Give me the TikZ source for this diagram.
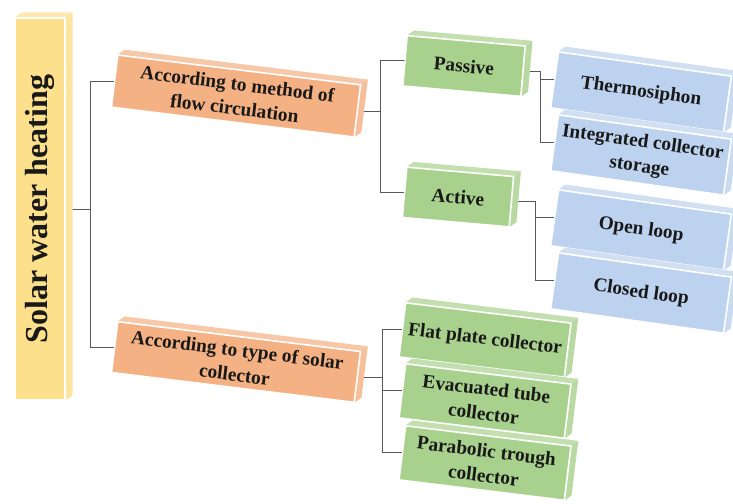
\documentclass[tikz,border=0pt]{standalone}
\usepackage{fontspec}
\setmainfont{Liberation Serif}
\usetikzlibrary{calc}
\usetikzlibrary{positioning}
\definecolor{sunbar}{RGB}{252,224,140}
\definecolor{flowbox}{RGB}{244,177,131}
\definecolor{kindbox}{RGB}{169,209,142}
\definecolor{leafbox}{RGB}{189,210,238}
\pgfdeclarelayer{wires}
\pgfsetlayers{wires,main}
\tikzset{
  slab/.style={draw=white,line width=0.8pt,fill=#1,inner sep=0pt,align=center,
    text=black!90,font=\fontsize{14.5}{18.5}\selectfont\bfseries},
  wire/.style={draw=black!65,line width=0.6pt}
}
\newcommand{\extrude}[2]{%
  \fill[#2!70!white] (#1.north west) -- ++(7,-5) -- ($(#1.north east)+(7,-5)$) -- (#1.north east) -- cycle;
  \fill[#2!82!white] (#1.north east) -- ++(7,-5) -- ($(#1.south east)+(7,-5)$) -- (#1.south east) -- cycle;
  \draw[white,line width=0.8pt] (#1.north west) -- (#1.north east) -- (#1.south east);
}

\begin{document}
\begin{tikzpicture}[line cap=round,line join=round,x=0.75pt,y=-0.75pt]
\clip(0,0) rectangle (733,504);
\node[slab=sunbar,minimum width=37.5pt,minimum height=286.5pt] (sw) at (40,209) {};
\extrude{sw}{sunbar}
\node[rotate=90,text=black!90,font=\fontsize{24}{28}\selectfont\bfseries] (swtext) at (sw) {Solar water heating};
\node[slab=flowbox,rotate=-7,minimum width=183pt,minimum height=39pt] (flow) at (236,96) {According to method of\\flow circulation};
\extrude{flow}{flowbox}
\node[slab=flowbox,rotate=-7,minimum width=183pt,minimum height=38pt] (type) at (236,362) {According to type of solar\\collector};
\extrude{type}{flowbox}
\node[slab=kindbox,rotate=-5,minimum width=88.5pt,minimum height=37.5pt] (passive) at (464,66) {Passive};
\extrude{passive}{kindbox}
\node[slab=kindbox,rotate=-5,minimum width=80pt,minimum height=37.5pt] (active) at (458,197) {Active};
\extrude{active}{kindbox}
\node[slab=leafbox,rotate=-8,minimum width=130.5pt,minimum height=42pt] (thermo) at (641,92) {Thermosiphon};
\extrude{thermo}{leafbox}
\node[slab=leafbox,rotate=-8,minimum width=130.5pt,minimum height=42pt] (ics) at (641,155) {Integrated collector\\storage};
\extrude{ics}{leafbox}
\node[slab=leafbox,rotate=-8,minimum width=130.5pt,minimum height=42pt] (open) at (641,230) {Open loop};
\extrude{open}{leafbox}
\node[slab=leafbox,rotate=-8,minimum width=130.5pt,minimum height=42pt] (closed) at (641,293) {Closed loop};
\extrude{closed}{leafbox}
\node[slab=kindbox,rotate=-7,minimum width=124.5pt,minimum height=40.5pt] (flat) at (485,340) {Flat plate collector};
\extrude{flat}{kindbox}
\node[slab=kindbox,rotate=-7,minimum width=124.5pt,minimum height=40.5pt] (evac) at (485,401) {Evacuated tube\\collector};
\extrude{evac}{kindbox}
\node[slab=kindbox,rotate=-7,minimum width=124.5pt,minimum height=40.5pt] (parab) at (485,463) {Parabolic trough\\collector};
\extrude{parab}{kindbox}
\coordinate (j1) at (90,0);
\coordinate (j2) at (380,0);
\coordinate (j3) at (540,0);
\coordinate (j4) at (535,0);
\coordinate (j5) at (382,0);
\begin{pgfonlayer}{wires}
\draw[wire] (sw.east) -- (sw.east -| j1) |- (flow.west);
\draw[wire] (sw.east -| j1) |- (type.west);
\draw[wire] (flow.east) -- (flow.east -| j2) |- (passive.west);
\draw[wire] (flow.east -| j2) |- (active.west);
\draw[wire] (passive.east) -- (passive.east -| j3) |- (thermo.west);
\draw[wire] (passive.east -| j3) |- (ics.west);
\draw[wire] (active.east) -- (active.east -| j4) |- (open.west);
\draw[wire] (active.east -| j4) |- (closed.west);
\draw[wire] (type.east) -- (type.east -| j5) |- (flat.west);
\draw[wire] (type.east -| j5) |- (evac.west);
\draw[wire] (type.east -| j5) |- (parab.west);
\end{pgfonlayer}
\end{tikzpicture}
\end{document}
